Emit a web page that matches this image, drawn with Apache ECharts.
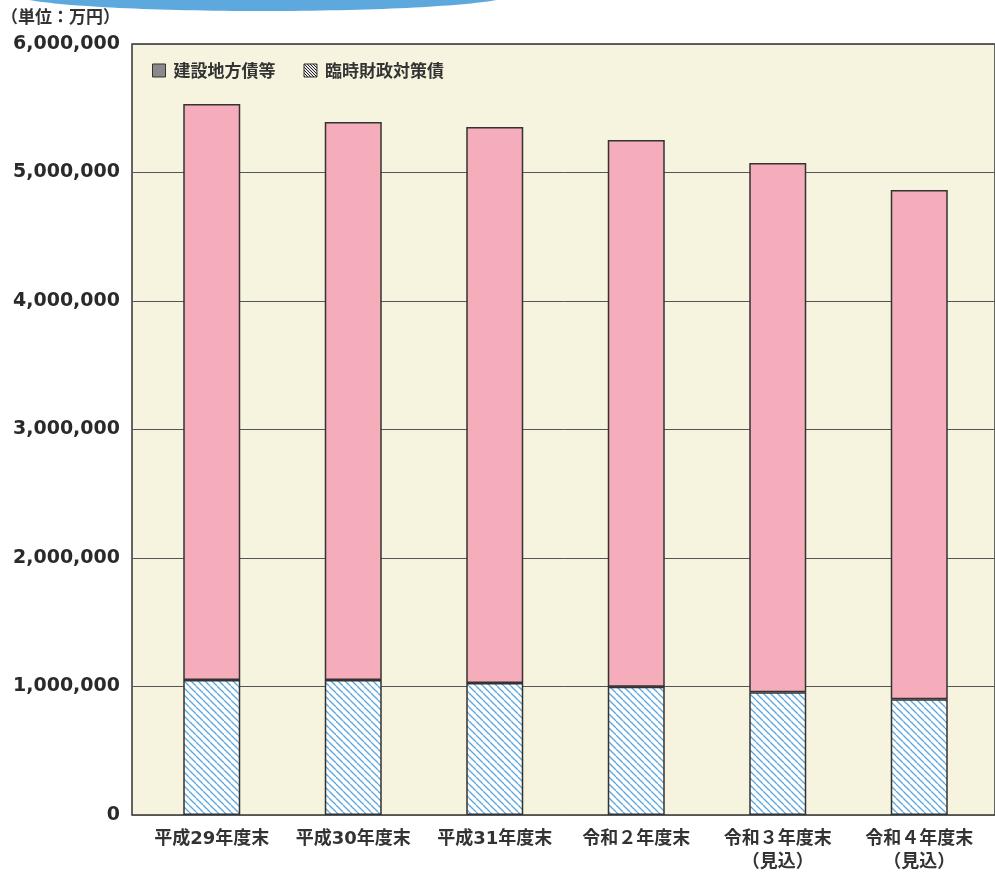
<!DOCTYPE html>
<html><head><meta charset="utf-8">
<script src="https://cdn.jsdelivr.net/npm/echarts@6/dist/echarts.min.js"></script>
<style>html,body{margin:0;padding:0;background:#fff}#c{width:995px;height:874px}</style>
</head><body><div id="c"></div>
<script>
const categories = ['平成29年度末','平成30年度末','平成31年度末','令和２年度末','令和３年度末\n（見込）','令和４年度末\n（見込）'];
const seriesNames = ['建設地方債等','臨時財政対策債'];
const rinjiValues = [1051000,1051000,1027000,998000,955000,900000];
const kensetsuValues = [4482000,4342000,4327000,4255000,4119000,3964000];
const yTickLabels = ['0','1,000,000','2,000,000','3,000,000','4,000,000','5,000,000','6,000,000'];
const unitLabel = '（単位：万円）';

function hatch(size, bg, fg, lw){
  const c = document.createElement('canvas');
  c.width = size; c.height = size;
  const g = c.getContext('2d');
  g.fillStyle = bg; g.fillRect(0,0,size,size);
  g.strokeStyle = fg; g.lineWidth = lw;
  for (const off of [-size,0,size]){
    g.beginPath(); g.moveTo(off,0); g.lineTo(off+size,size); g.stroke();
  }
  return c;
}
const bluePattern = {image: hatch(7,'#ffffff','#5aa7e0',1.3), repeat:'repeat'};
const legendPattern = {image: hatch(3,'#e8e8e8','#222222',1), repeat:'repeat'};

const cjk = '"DejaVu Sans","Noto Sans CJK JP",sans-serif';
const chart = echarts.init(document.getElementById('c'));
chart.setOption({
  animation:false,
  title:{text:unitLabel,left:1,top:8,padding:0,textStyle:{fontSize:17,fontWeight:'bold',color:'#333',fontFamily:'"Noto Sans CJK JP",sans-serif'}},
  graphic:[{type:'ellipse',shape:{cx:263,cy:-6,rx:250,ry:17},style:{fill:'#5da9dd'},z:10}],
  legend:{
    left:152, top:62, padding:0, itemWidth:13, itemHeight:13, itemGap:28,
    textStyle:{fontSize:17,fontWeight:'bold',color:'#333',fontFamily:'"Noto Sans CJK JP",sans-serif',padding:[0,0,0,3]},
    data:[
      {name:seriesNames[0],icon:'rect',itemStyle:{color:'#8a8a8a',borderColor:'#333',borderWidth:1}},
      {name:seriesNames[1],icon:'rect',itemStyle:{color:legendPattern,borderColor:'#333',borderWidth:1}}
    ]
  },
  grid:[
    {left:132,right:0,top:44,bottom:59,show:true,backgroundColor:'#f6f3df',borderColor:'#333',borderWidth:1.5},
    {left:141,right:5,top:44,bottom:59}
  ],
  xAxis:[
    {gridIndex:0,type:'category',data:categories,show:false},
    {gridIndex:1,type:'category',data:categories,axisLine:{show:false},axisTick:{show:false},
     axisLabel:{margin:13,fontSize:18,fontWeight:'bold',color:'#333',lineHeight:23,fontFamily:cjk,interval:0}}
  ],
  yAxis:[
    {gridIndex:0,type:'value',min:0,max:6000000,interval:1000000,
     axisLine:{show:false},axisTick:{show:false},
     splitLine:{lineStyle:{color:'#555',width:1}},
     axisLabel:{margin:12,fontSize:19,fontWeight:'bold',color:'#2a2a2a',fontFamily:'"DejaVu Sans",sans-serif',
       formatter:v=>yTickLabels[Math.round(v/1000000)]}},
    {gridIndex:1,type:'value',min:0,max:6000000,interval:1000000,show:false,splitLine:{show:false}}
  ],
  series:[
    {name:seriesNames[1],type:'bar',stack:'a',xAxisIndex:1,yAxisIndex:1,barWidth:57,data:rinjiValues,
     itemStyle:{color:bluePattern,borderColor:'#333',borderWidth:1.5}},
    {name:seriesNames[0],type:'bar',stack:'a',xAxisIndex:1,yAxisIndex:1,barWidth:57,data:kensetsuValues,
     itemStyle:{color:'#f5adbc',borderColor:'#333',borderWidth:1.5}}
  ]
});
</script></body></html>
